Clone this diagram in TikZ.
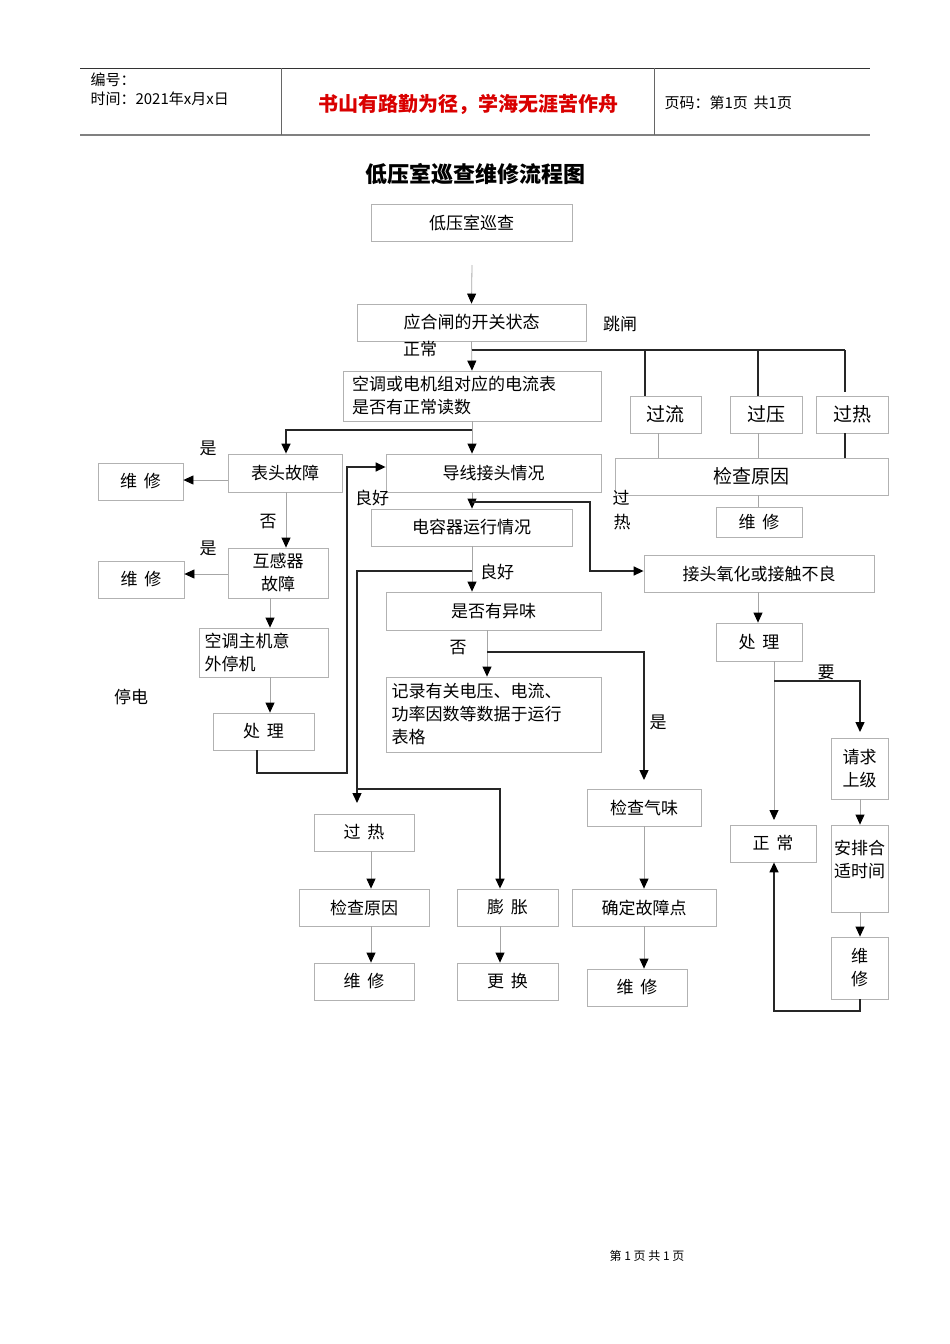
\documentclass[tikz,border=0pt]{standalone}
\usepackage{fontspec}
\setmainfont{Noto Sans CJK SC}
\usetikzlibrary{arrows.meta}
\tikzset{
 box/.style={draw=gray!60,line width=0.8pt,inner sep=0pt,font=\fontsize{17}{23}\selectfont},
 thin/.style={draw=gray!70,line width=0.8pt},
 thick/.style={draw=black!85,line width=1.4pt},
 arr/.style={-{Triangle[length=10pt,width=9pt,color=black,fill=black]}},
 lbl/.style={font=\fontsize{17}{20}\selectfont}
}
\newcommand\bx[6]{\node[box,minimum width={(#4-#2)*1pt},minimum height={(#5-#3)*1pt}] (#1) at ({(#2+#4)/2},{(#3+#5)/2}) {#6};}
\begin{document}
\begin{tikzpicture}[x=1pt,y=-1pt]
\useasboundingbox (0,0) rectangle (950,1344);
% header
\draw[black!80,line width=0.8pt] (80,68) -- (870,68);
\draw[gray,line width=1.5pt] (80,135) -- (870,135);
\draw[gray!80!black,line width=0.8pt] (281,68) -- (281,135) (654,68) -- (654,135);
\node[anchor=west,font=\fontsize{15}{16}\selectfont] (h1) at (87,80) {编号：};
\node[anchor=west,font=\fontsize{15}{16}\selectfont] (h2) at (87,99) {时间：2021年x月x日};
\node[font=\bfseries\fontsize{20}{22}\selectfont,text=red!85!black] (h3) at (468,104) {书山有路勤为径，学海无涯苦作舟};
\node[anchor=west,font=\fontsize{15}{16}\selectfont] (h4) at (661,103) {页码：第1页\, 共1页};
\node[font=\bfseries\fontsize{22}{24}\selectfont] (title) at (475,174) {低压室巡查维修流程图};
% boxes
\bx{st}{371}{204}{572}{241}{低压室巡查}
\bx{yh}{357}{304}{586}{341}{应合闸的开关状态}
\bx{kt}{343}{371}{601}{421}{\parbox{240pt}{空调或电机组对应的电流表\\是否有正常读数}}
\bx{bt}{228}{454}{342}{492}{表头故障}
\bx{wx1}{98}{463}{183}{500}{维\,\ 修}
\bx{dx}{386}{454}{601}{492}{导线接头情况}
\bx{dr}{371}{509}{572}{546}{电容器运行情况}
\bx{hg}{228}{548}{328}{598}{\parbox{56pt}{\centering 互感器\\故障}}
\bx{wx2}{98}{561}{184}{598}{维\,\ 修}
\bx{kj}{199}{628}{328}{677}{\parbox{118pt}{空调主机意\\外停机}}
\bx{cl1}{213}{713}{314}{750}{处\,\ 理}
\bx{yw}{386}{592}{601}{630}{是否有异味}
\bx{jl}{386}{677}{601}{752}{\parbox{204pt}{记录有关电压、电流、\\功率因数等数据于运行\\表格}}
\bx{gl}{630}{396}{701}{433}{\fontsize{19}{20}\selectfont 过流}
\bx{gy}{730}{396}{802}{433}{\fontsize{19}{20}\selectfont 过压}
\bx{gr}{816}{396}{888}{433}{\fontsize{19}{20}\selectfont 过热}
\bx{jc1}{615}{458}{888}{495}{\fontsize{19}{20}\selectfont 检查原因}
\bx{wx3}{716}{507}{802}{537}{维\,\ 修}
\bx{jt}{644}{555}{874}{592}{接头氧化或接触不良}
\bx{cl2}{716}{623}{802}{661}{处\,\ 理}
\bx{qq}{831}{738}{888}{799}{\parbox{40pt}{\centering 请求\\上级}}
\bx{zc}{730}{825}{816}{862}{正\,\ 常}
\bx{ap}{831}{825}{888}{912}{\parbox[t]{56pt}{\centering 安排合\\适时间\\[18pt]}}
\bx{wx4}{831}{937}{888}{999}{\parbox{40pt}{\centering 维\\修}}
\bx{gr2}{314}{814}{414}{851}{过\,\ 热}
\bx{jc2}{299}{889}{429}{926}{检查原因}
\bx{wx5}{314}{963}{414}{1000}{维\,\ 修}
\bx{pz}{457}{889}{558}{926}{膨\,\ 胀}
\bx{gh}{457}{963}{558}{1000}{更\,\ 换}
\bx{qw}{587}{789}{701}{826}{检查气味}
\bx{qd}{572}{889}{716}{926}{确定故障点}
\bx{wx6}{587}{969}{687}{1006}{维\,\ 修}
% labels
\node[lbl] (l1) at (420,349) {正常};
\node[lbl] (l2) at (620,324) {跳闸};
\node[lbl] (l3) at (208,448) {是};
\node[lbl] (l4) at (268,522) {否};
\node[lbl] (l5) at (208,548) {是};
\node[lbl] (l6) at (372,498) {良好};
\node[lbl] (l7) at (621,498) {过};
\node[lbl] (l8) at (622,522) {热};
\node[lbl] (l9) at (497,572) {良好};
\node[lbl] (l10) at (458,648) {否};
\node[lbl] (l11) at (658,722) {是};
\node[lbl] (l12) at (826,672) {要};
\node[lbl] (l13) at (131,697) {停电};
\node[font=\fontsize{12}{14}\selectfont] (ft) at (647,1256) {第\ 1\ 页\ 共\ 1\ 页};
% connectors
\coordinate (c0) at (472,265);
\draw[thin,arr] (c0) -- (yh.north);
\draw[thin,arr] (yh.south) -- (kt.north);
\coordinate (j1) at (472,350);
\draw[thick] (j1) -- (845,350);
\draw[thick] (645,350) -- (gl.north -| 645,0);
\draw[thick] (758,350) -- (gy.north -| 758,0);
\draw[thick] (845,350) -- (845,392);
\draw[thin] (gl.south -| 658,0) -- (jc1.north -| 658,0);
\draw[thin] (gy.south -| 758,0) -- (jc1.north -| 758,0);
\draw[thick] (gr.south -| 845,0) -- (jc1.north -| 845,0);
\draw[thin] (jc1.south -| 758,0) -- (wx3.north -| 758,0);
\draw[thin] (kt.south) -- (472,430);
\draw[thick,arr] (472,430) -- (286,430) -- (bt.north -| 286,0);
\draw[thin,arr] (472,430) -- (dx.north -| 472,0);
\draw[thin,arr] (bt.west |- 0,480) -- (wx1.east |- 0,480);
\draw[thin,arr] (bt.south -| 286,0) -- (hg.north -| 286,0);
\draw[thin,arr] (hg.west |- 0,574) -- (wx2.east |- 0,574);
\draw[thin,arr] (hg.south -| 270,0) -- (kj.north -| 270,0);
\draw[thin,arr] (kj.south -| 270,0) -- (cl1.north -| 270,0);
\draw[thick,arr] (cl1.south -| 257,0) -- (257,773) -- (347,773) -- (347,467) -- (dx.west |- 0,467);
\draw[thin,arr] (dx.south -| 472,0) -- (dr.north -| 472,0);
\draw[thick,arr] (472,502) -- (590,502) -- (590,571) -- (jt.west |- 0,571);
\draw[thin,arr] (dr.south -| 472,0) -- (yw.north -| 472,0);
\draw[thick,arr] (472,571) -- (357,571) -- (357,803);
\draw[thick,arr] (357,789) -- (500,789) -- (pz.north -| 500,0);
\draw[thin,arr] (yw.south -| 487,0) -- (jl.north -| 487,0);
\draw[thick,arr] (487,652) -- (644,652) -- (644,780);
\draw[thin,arr] (qw.south -| 644,0) -- (qd.north -| 644,0);
\draw[thin,arr] (qd.south -| 644,0) -- (wx6.north -| 644,0);
\draw[thin,arr] (gr2.south -| 371,0) -- (jc2.north -| 371,0);
\draw[thin,arr] (jc2.south -| 371,0) -- (wx5.north -| 371,0);
\draw[thin,arr] (pz.south -| 500,0) -- (gh.north -| 500,0);
\draw[thin,arr] (jt.south -| 758,0) -- (cl2.north -| 758,0);
\draw[thin,arr] (cl2.south -| 774,0) -- (774,820);
\draw[thick,arr] (774,681) -- (860,681) -- (860,732);
\draw[thin,arr] (qq.south -| 860,0) -- (ap.north -| 860,0);
\draw[thin,arr] (ap.south -| 860,0) -- (wx4.north -| 860,0);
\draw[thick,arr] (wx4.south -| 860,0) -- (860,1011) -- (774,1011) -- (zc.south -| 774,0);
\end{tikzpicture}
\end{document}
